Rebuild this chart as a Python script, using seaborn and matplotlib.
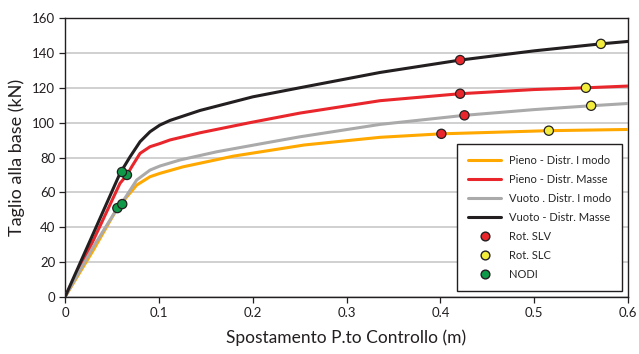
import numpy as np
import pandas as pd
import matplotlib
matplotlib.use("Agg")
import matplotlib.pyplot as plt
import seaborn as sns
from matplotlib.lines import Line2D

# ---- data ----
x_pieno_imodo = [0, 0.0302, 0.0558, 0.0764, 0.0906, 0.101, 0.126, 0.1794, 0.255, 0.3357, 0.401, 0.5155, 0.600]
y_pieno_imodo = [0, 26.9, 51.0, 64.2, 69.0, 70.9, 74.7, 80.8, 87.2, 91.6, 93.6, 95.4, 96.1]

x_pieno_masse = [0, 0.0302, 0.0586, 0.066, 0.0711, 0.080, 0.0906, 0.101, 0.112, 0.1439, 0.197, 0.2504, 0.3357, 0.421, 0.50, 0.555, 0.600]
y_pieno_masse = [0, 32.5, 65.2, 70.0, 74.7, 82.4, 86.2, 88.0, 90.1, 94.2, 100.0, 105.5, 112.6, 116.6, 119.0, 120.0, 121.0]

x_vuoto_imodo = [0, 0.0302, 0.0568, 0.061, 0.0764, 0.0906, 0.101, 0.1226, 0.1617, 0.215, 0.2504, 0.3357, 0.4256, 0.50, 0.5606, 0.600]
y_vuoto_imodo = [0, 28.8, 51.8, 54.3, 67.1, 72.8, 75.1, 78.6, 83.3, 88.5, 91.9, 99.0, 104.2, 107.5, 109.7, 111.0]

x_vuoto_masse = [0, 0.0302, 0.0586, 0.0693, 0.080, 0.0906, 0.101, 0.112, 0.1439, 0.200, 0.250, 0.3357, 0.421, 0.50, 0.571, 0.600]
y_vuoto_masse = [0, 36.5, 70.9, 80.4, 89.1, 94.8, 98.6, 101.3, 107.0, 114.8, 120.0, 128.8, 135.9, 141.2, 145.2, 146.6]

series_names = ["Pieno - Distr. I modo", "Pieno - Distr. Masse",
                "Vuoto . Distr. I modo", "Vuoto - Distr. Masse"]
series_colors = ["#FFA800", "#E8262B", "#AAAAAA", "#231F20"]

slv_x = [0.401, 0.421, 0.4256, 0.421]
slv_y = [93.6, 116.6, 104.2, 135.9]
slc_x = [0.5155, 0.555, 0.5606, 0.571]
slc_y = [95.4, 120.0, 109.7, 145.2]
nodi_x = [0.0558, 0.066, 0.061, 0.0607]
nodi_y = [51.0, 70.0, 53.3, 71.7]

marker_names = ["Rot. SLV", "Rot. SLC", "NODI"]
marker_colors = ["#E8262B", "#F2EC3C", "#0E9A48"]

x_ticks = [0, 0.1, 0.2, 0.3, 0.4, 0.5, 0.6]
x_tick_labels = ["0", "0.1", "0.2", "0.3", "0.4", "0.5", "0.6"]
y_ticks = [0, 20, 40, 60, 80, 100, 120, 140, 160]

# ---- build frames ----
frames = []
for name, xs, ys in zip(series_names,
                        [x_pieno_imodo, x_pieno_masse, x_vuoto_imodo, x_vuoto_masse],
                        [y_pieno_imodo, y_pieno_masse, y_vuoto_imodo, y_vuoto_masse]):
    frames.append(pd.DataFrame({"x": xs, "y": ys, "serie": name}))
df_lines = pd.concat(frames, ignore_index=True)

df_pts = pd.concat([
    pd.DataFrame({"x": slv_x, "y": slv_y, "tipo": marker_names[0]}),
    pd.DataFrame({"x": slc_x, "y": slc_y, "tipo": marker_names[1]}),
    pd.DataFrame({"x": nodi_x, "y": nodi_y, "tipo": marker_names[2]}),
], ignore_index=True)

sns.set_style("white")
plt.rcParams["font.family"] = ["Lato", "DejaVu Sans"]

fig = plt.figure(figsize=(6.39, 3.54), dpi=100)
ax = fig.add_axes([0.1017, 0.161, 0.8813, 0.788])

sns.lineplot(data=df_lines, x="x", y="y", hue="serie", hue_order=series_names,
             palette=series_colors, linewidth=2.2, sort=False, estimator=None,
             legend=False, ax=ax, zorder=3)
for line in ax.lines:
    line.set_solid_joinstyle("round")
    line.set_solid_capstyle("round")
sns.scatterplot(data=df_pts, x="x", y="y", hue="tipo", hue_order=marker_names,
                palette=marker_colors, s=44, edgecolor="#231F20", linewidth=0.9,
                legend=False, ax=ax, zorder=4)

ax.set_xlim(0, 0.6)
ax.set_ylim(0, 160)
ax.set_xticks(x_ticks)
ax.set_xticklabels(x_tick_labels)
ax.set_yticks(y_ticks)
ax.yaxis.grid(True, color="#C8C8C8", linewidth=1.2)
ax.xaxis.grid(False)
for sp in ax.spines.values():
    sp.set_visible(True)
    sp.set_color("#231F20")
    sp.set_linewidth(1.0)
ax.tick_params(axis="both", direction="out", length=4, width=0.9, color="#231F20",
               labelsize=9.5, labelcolor="#231F20", bottom=True, left=True, pad=3)
ax.set_xlabel("Spostamento P.to Controllo (m)", fontsize=12.5, color="#231F20", labelpad=8)
ax.set_ylabel("Taglio alla base (kN)", fontsize=13, color="#231F20", labelpad=5)

handles = [Line2D([0], [0], color=c, lw=2.2) for c in series_colors]
handles += [Line2D([0], [0], marker="o", linestyle="none", markerfacecolor=c,
                   markeredgecolor="#231F20", markersize=6.3) for c in marker_colors]
labels = series_names + marker_names
leg = ax.legend(handles, labels, loc="lower right", bbox_to_anchor=(0.989, 0.0215),
                borderaxespad=0, fontsize=8, frameon=True, fancybox=False, framealpha=1,
                edgecolor="#231F20", handlelength=3.0, labelspacing=0.72,
                borderpad=1.0, handletextpad=0.65)
leg.get_frame().set_linewidth(1.0)

fig.savefig("out.png", dpi=100)
